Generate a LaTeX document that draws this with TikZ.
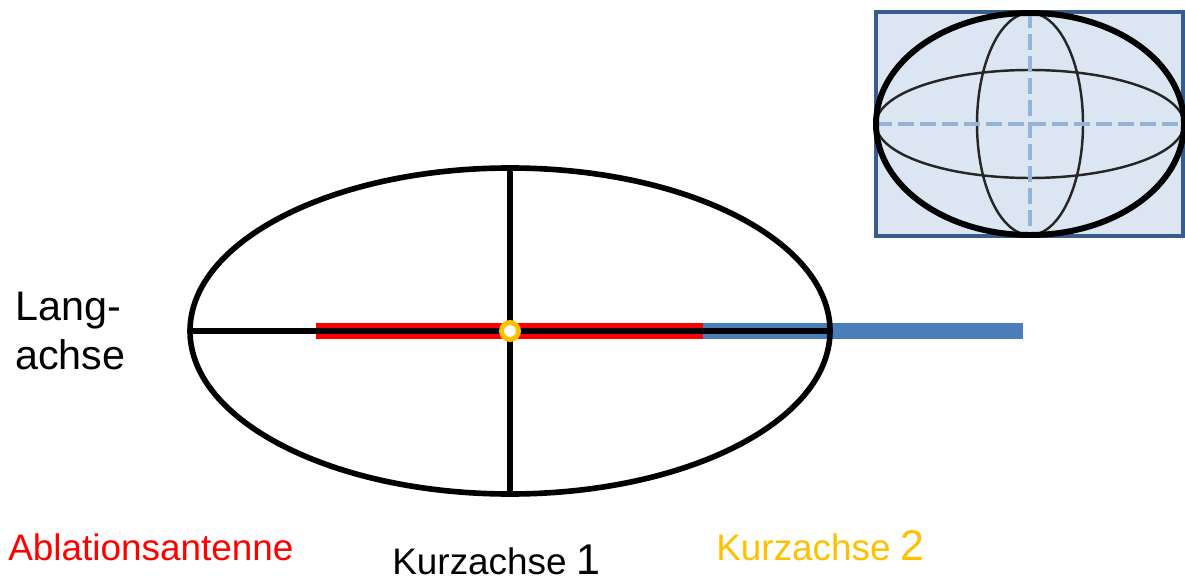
\documentclass[tikz,border=0pt]{standalone}
\usepackage{fontspec}
\setmainfont{Liberation Sans}
\usepackage{tikz}
\usetikzlibrary{positioning}
\definecolor{antennared}{HTML}{FF0000}
\definecolor{zoneblue}{HTML}{4A7EBB}
\definecolor{focusorange}{HTML}{FFC000}
\definecolor{insetframe}{HTML}{385D8A}
\definecolor{insetfill}{HTML}{DCE6F2}
\definecolor{insetdash}{HTML}{95B3D7}

\begin{document}
\begin{tikzpicture}[x=0.02cm, y=-0.02cm,
  axis/.style={line width=3.2pt, black},
  outline/.style={line width=3.2pt, black},
  antenna/.style={line width=9pt, antennared},
  zone/.style={line width=9.5pt, zoneblue},
  focus/.style={circle, draw=focusorange, fill=white, line width=2.8pt, minimum size=0.34cm, inner sep=0pt},
  label/.style={inner sep=0pt, anchor=base west, font=\fontsize{21}{25}\selectfont},
  frame/.style={draw=insetframe, fill=insetfill, line width=2.6pt},
  shell/.style={line width=3.4pt, black},
  slice/.style={line width=1.4pt, black!85},
  guide/.style={line width=2.8pt, insetdash, dash pattern=on 0.32cm off 0.12cm}
]
  \useasboundingbox (0,0) rectangle (1185,577);

  \coordinate (c) at (510,331);
  \coordinate (lw) at (190,331);
  \coordinate (le) at (830,331);
  \coordinate (ktop) at (510,168);
  \coordinate (kbot) at (510,494);
  \coordinate (aw) at (316,331);
  \coordinate (ae) at (703,331);
  \coordinate (ze) at (1023,331);

  \draw[zone] (ae) -- (ze);
  \draw[antenna] (aw) -- (ae);
  \draw[axis] (lw) -- (le);
  \draw[axis] (ktop) -- (kbot);
  \draw[outline] (c) ellipse [x radius=320, y radius=163];
  \node[focus] (center) at (c) {};

  \node[inner sep=0pt, anchor=west, align=left, font=\fontsize{23.5}{28.4}\selectfont] (lang) at (15,331) {Lang-\\achse};
  \node[label, text=antennared] (ablation) at (8,560) {Ablationsantenne};
  \node[label] (kurz1) at (392,574) {Kurzachse {\fontsize{24.5}{28}\selectfont 1}};
  \node[label, text=focusorange] (kurz2) at (716,560) {Kurzachse {\fontsize{24.5}{28}\selectfont 2}};

  \coordinate (ic) at (1030,124);
  \coordinate (iw) at (876,124);
  \coordinate (ie) at (1183,124);
  \coordinate (in) at (1030,12);
  \coordinate (is) at (1030,232);
  \draw[frame] (876,12) rectangle (1183,236);
  \draw[slice] (ic) ellipse [x radius=154, y radius=54];
  \draw[slice] (ic) ellipse [x radius=53, y radius=111];
  \draw[guide] (iw) -- (ie);
  \draw[guide] (in) -- (is);
  \draw[shell] (ic) ellipse [x radius=154, y radius=111];
\end{tikzpicture}
\end{document}
